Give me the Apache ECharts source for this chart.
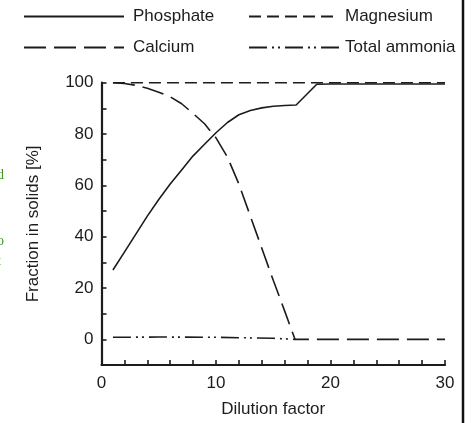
<!DOCTYPE html>
<html>
<head>
<meta charset="utf-8">
<script src="https://cdn.jsdelivr.net/npm/echarts@6/dist/echarts.min.js"></script>
<style>
html,body{margin:0;padding:0;background:#fff;}
#c{width:474px;height:423px;}
</style>
</head>
<body>
<div id="c"></div>
<script>
// ---- data ----
const phosphate = [[1,27],[2,34],[3,41],[4,48],[5,54.5],[6,60.5],[7,66],[8,71.5],[9,76],[10,80.5],[11,84.5],[12,87.5],[13,89.2],[14,90.2],[15,90.8],[16,91.1],[17,91.3],[18.8,99.4],[20,99.5],[25,99.5],[30,99.5]];
const magnesium = [[1,100],[5,100],[10,100],[15,100],[20,100],[25,100],[30,100]];
const calcium = [[1,100],[2,99.7],[3,99],[4,97.8],[5,96.3],[6,94.5],[7,91.8],[8,88],[9,84],[10,78.5],[11,71],[12,60.5],[13,48],[14,35.5],[15,23],[16,11],[16.9,0],[20,0],[25,0],[30,0]];
const totalAmmonia = [[1,0.8],[5,0.9],[10,0.8],[15,0.4],[16.9,0]];
const seriesNames = ['Phosphate','Magnesium','Calcium','Total ammonia'];
const xTicks = {min:0, max:30, step:2, labelEvery:10};
const yTicks = {min:-10, max:100, step:10, labelEvery:20};
const axisTitles = {x:'Dilution factor', y:'Fraction in solids [%]'};
const sideFragments = [['d',176],['o',242],['t',262]];

const ink = '#1c1c1c';
const FONT = 'Liberation Sans, Arial, sans-serif';
const lw = 1.6;

const chart = echarts.init(document.getElementById('c'), null, {renderer:'canvas'});
const mk = (name, data, dash) => ({
  name, type:'line', data, showSymbol:false, symbol:'none', animation:false,
  lineStyle:{color:ink, width:lw, type:dash},
  itemStyle:{color:ink}
});
const legendCommon = {orient:'vertical', top:3, itemHeight:16, itemGap:14, selectedMode:false,
  itemStyle:{opacity:0, borderWidth:0}};
chart.setOption({
  animation:false,
  backgroundColor:'#fff',
  legend:[
    Object.assign({}, legendCommon, {data:[seriesNames[0], seriesNames[2]], left:18, itemWidth:100,
      textStyle:{fontFamily:FONT, fontSize:17, color:ink, padding:[0,0,0,4]}}),
    Object.assign({}, legendCommon, {data:[seriesNames[1], seriesNames[3]], left:243, itemWidth:90,
      textStyle:{fontFamily:FONT, fontSize:17, color:ink, padding:[0,0,0,1]}})
  ],
  grid:{left:101.5, right:29, top:82.7, bottom:54, containLabel:false},
  xAxis:{
    type:'value', min:xTicks.min, max:xTicks.max, interval:xTicks.step,
    name:axisTitles.x, nameLocation:'middle', nameGap:36,
    nameTextStyle:{fontFamily:FONT, fontSize:17, color:ink},
    axisLine:{onZero:false, lineStyle:{color:ink, width:2.2}},
    axisTick:{inside:true, length:5, lineStyle:{color:ink, width:1.6}},
    axisLabel:{fontFamily:FONT, fontSize:17, color:ink, margin:10,
      formatter:v => (v % xTicks.labelEvery === 0 ? String(v) : '')},
    splitLine:{show:false}
  },
  yAxis:{
    type:'value', min:yTicks.min, max:yTicks.max, interval:yTicks.step,
    name:axisTitles.y, nameLocation:'middle', nameGap:60, nameRotate:90,
    nameTextStyle:{fontFamily:FONT, fontSize:17, color:ink},
    axisLine:{onZero:false, lineStyle:{color:ink, width:2.2}},
    axisTick:{inside:true, length:5, lineStyle:{color:ink, width:1.6}},
    axisLabel:{fontFamily:FONT, fontSize:17, color:ink, margin:8,
      formatter:v => (v >= 0 && v % yTicks.labelEvery === 0 ? String(v) : '')},
    splitLine:{show:false}
  },
  series:[
    mk(seriesNames[0], phosphate, 'solid'),
    mk(seriesNames[1], magnesium, [12,6]),
    mk(seriesNames[2], calcium, [22,8]),
    mk(seriesNames[3], totalAmmonia, [18,5,2,4,2,5])
  ],
  graphic:[
    {type:'line', shape:{x1:463, y1:0, x2:463, y2:423}, style:{stroke:'#111', lineWidth:2.5}},
    ...sideFragments.map(([t,y]) => ({type:'text', left:-3, top:y-8, style:{text:t, fill:'#3c9a1c', font:'14px "Liberation Serif", serif'}}))
  ]
});
</script>
</body>
</html>
